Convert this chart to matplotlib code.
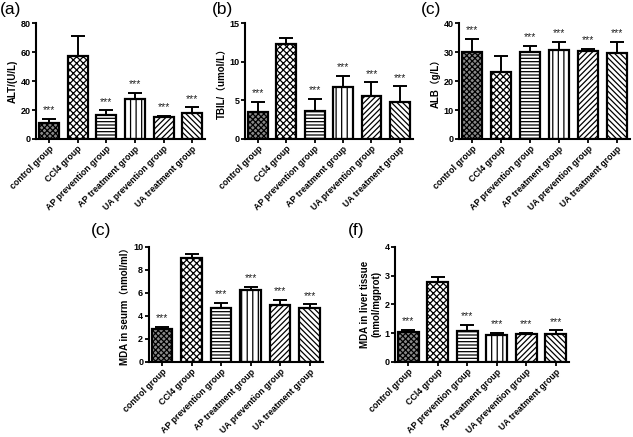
import numpy as np
import matplotlib
matplotlib.use("Agg")
import matplotlib.pyplot as plt

plt.rcParams['font.family'] = ['Liberation Sans', 'Noto Sans CJK SC', 'DejaVu Sans']
plt.rcParams['hatch.linewidth'] = 0.9

groups = ["control group", "CCl4 group", "AP prevention group",
          "AP treatment group", "UA prevention group", "UA treatment group"]

# mean values and upper error (SD)
alt_mean = [11, 57.5, 16.5, 27.8, 15.3, 17.6]
alt_err = [2.8, 13.3, 3.4, 4.1, 0.8, 4.3]
tbil_mean = [3.5, 12.25, 3.65, 6.7, 5.55, 4.8]
tbil_err = [1.3, 0.8, 1.55, 1.45, 1.8, 2.05]
alb_mean = [30.2, 23.2, 30.2, 30.8, 30.4, 29.7]
alb_err = [4.4, 5.3, 1.9, 2.8, 0.7, 3.9]
mda_s_mean = [2.87, 9.0, 4.68, 6.22, 4.92, 4.68]
mda_s_err = [0.18, 0.42, 0.44, 0.33, 0.5, 0.33]
mda_l_mean = [1.05, 2.77, 1.08, 0.93, 0.96, 0.96]
mda_l_err = [0.06, 0.18, 0.21, 0.09, 0.05, 0.14]
stars = ["***", "", "***", "***", "***", "***"]

faces = ["#8a8a8a", "white", "white", "white", "white", "white"]
hatches = ["xxxxxx", "xxxxx", "-----", "|||", "//////", "\\\\\\\\\\\\"]

fig = plt.figure(figsize=(6.33, 4.37), dpi=100)


def panel(rect, mean, err, ymax, ystep, ylabel, tag, tagpos):
    ax = fig.add_axes(rect)
    x = np.arange(len(groups))
    for i in x:
        ax.bar(i, mean[i], width=0.7, color=faces[i], edgecolor="black",
               hatch=hatches[i], linewidth=1.6, zorder=2)
        ax.errorbar(i, mean[i], yerr=[[0], [err[i]]], ecolor="black",
                    elinewidth=1.4, capsize=5, capthick=1.4, zorder=1)
        if stars[i]:
            ax.text(i, mean[i] + err[i] + ymax * 0.03, stars[i], ha="center",
                    va="bottom", fontsize=7.5, color="#222222")
    ax.set_xlim(-0.45, 5.45)
    ax.set_ylim(0, ymax)
    ax.set_yticks(np.arange(0, ymax + ystep / 2, ystep))
    ax.set_xticks(x)
    ax.set_xticklabels(groups, rotation=45, ha="right", rotation_mode="anchor",
                       fontsize=6.3, fontweight="bold")
    for lab in ax.get_yticklabels():
        lab.set_fontweight("bold")
        lab.set_fontsize(6.5)
    ax.spines["top"].set_visible(False)
    ax.spines["right"].set_visible(False)
    ax.spines["left"].set_linewidth(1.5)
    ax.spines["bottom"].set_linewidth(1.5)
    ax.tick_params(width=1.3, length=3, pad=1)
    ax.set_ylabel(ylabel, fontsize=7, fontweight="bold", labelpad=2)
    fig.text(tagpos[0], tagpos[1], tag, fontsize=12.5, ha="left", va="top")
    return ax


panel([0.057, 0.682, 0.267, 0.265], alt_mean, alt_err, 80, 20,
      "ALT/(U/L)", "(a)", (0.0, 0.995))
panel([0.387, 0.682, 0.265, 0.265], tbil_mean, tbil_err, 15, 5,
      "TBIL/（umol/L）", "(b)", (0.335, 0.995))
panel([0.725, 0.682, 0.27, 0.265], alb_mean, alb_err, 40, 10,
      "ALB（g/L）", "(c)", (0.665, 0.995))
panel([0.235, 0.172, 0.275, 0.263], mda_s_mean, mda_s_err, 10, 2,
      "MDA in seurm（nmol/ml）", "(c)", (0.143, 0.49))
panel([0.624, 0.172, 0.275, 0.263], mda_l_mean, mda_l_err, 4, 1,
      "MDA in liver tissue\n(nmol/mgprot)", "(f)", (0.55, 0.49))

fig.savefig("out.png", dpi=100)
